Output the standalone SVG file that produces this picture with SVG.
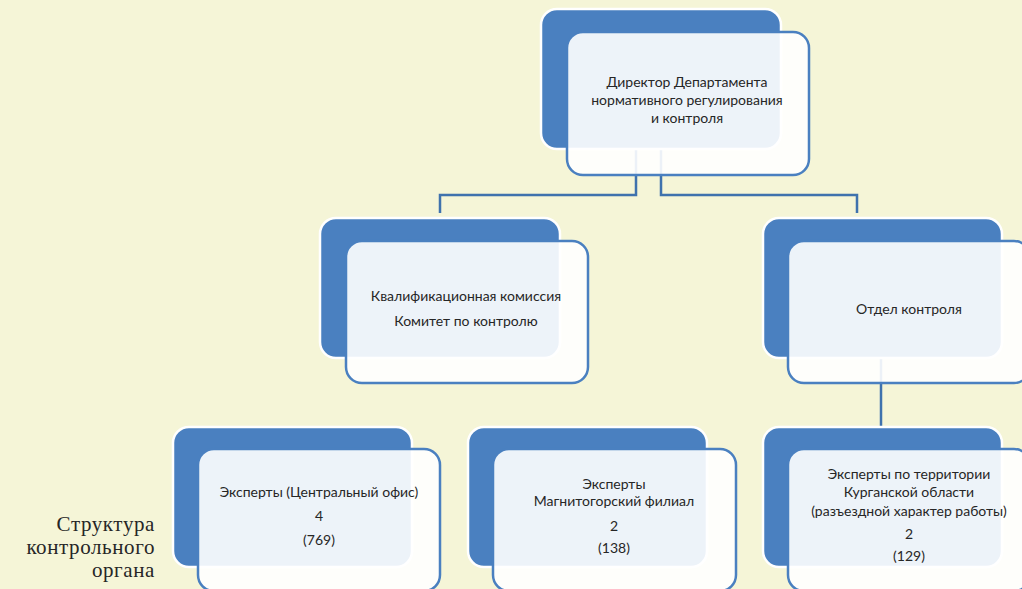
<svg xmlns="http://www.w3.org/2000/svg" width="1022" height="589" viewBox="0 0 1022 589">
<style>
.back{fill:#4a80c0;stroke:#ffffff;stroke-width:2.5}
.front{fill:#ffffff;fill-opacity:0.9;stroke:#4a80c0;stroke-width:2.5}
.t{font-family:Lato,"Open Sans","Liberation Sans",sans-serif;font-size:14px;fill:#262626;text-anchor:middle}
.conn{fill:none;stroke:#3f72ad;stroke-width:2.5}
.cap{font-family:"Liberation Serif","DejaVu Serif",serif;font-size:21px;letter-spacing:0.6px;fill:#262626;text-anchor:end}
</style>
<rect x="0" y="0" width="1022" height="589" fill="#f5f5d7"/>
<g id="connectors">
<path class="conn" d="M636,149 V195 H440 V213"/>
<path class="conn" d="M661,149 V195 H857 V213"/>
<path class="conn" d="M881,358 V428"/>
</g>
<g id="director">
<rect class="back" x="541" y="9" width="240" height="140" rx="16"/>
<rect class="front" x="567" y="32" width="242" height="143" rx="16"/>
<text class="t" x="687" y="87">Директор Департамента</text>
<text class="t" x="687" y="105">нормативного регулирования</text>
<text class="t" x="687" y="123">и контроля</text>
</g>
<g id="qualification">
<rect class="back" x="320" y="218" width="240" height="140" rx="16"/>
<rect class="front" x="346" y="241" width="242" height="142" rx="16"/>
<text class="t" x="466" y="301">Квалификационная комиссия</text>
<text class="t" x="466" y="326">Комитет по контролю</text>
</g>
<g id="control-dept">
<rect class="back" x="763" y="218" width="239" height="140" rx="16"/>
<rect class="front" x="788" y="241" width="242" height="142" rx="16"/>
<text class="t" x="909" y="314">Отдел контроля</text>
</g>
<g id="experts-central">
<rect class="back" x="173" y="427" width="239" height="140" rx="16"/>
<rect class="front" x="198" y="449" width="242" height="142" rx="16"/>
<text class="t" x="319" y="497">Эксперты (Центральный офис)</text>
<text class="t" x="319" y="521">4</text>
<text class="t" x="319" y="545">(769)</text>
</g>
<g id="experts-magnitogorsk">
<rect class="back" x="468" y="427" width="239" height="140" rx="16"/>
<rect class="front" x="493" y="449" width="243" height="142" rx="16"/>
<text class="t" x="614" y="489">Эксперты</text>
<text class="t" x="614" y="506">Магнитогорский филиал</text>
<text class="t" x="614" y="531">2</text>
<text class="t" x="614" y="553">(138)</text>
</g>
<g id="experts-kurgan">
<rect class="back" x="763" y="427" width="239" height="140" rx="16"/>
<rect class="front" x="788" y="449" width="242" height="142" rx="16"/>
<text class="t" x="909" y="479">Эксперты по территории</text>
<text class="t" x="909" y="497">Курганской области</text>
<text class="t" x="909" y="516">(разъездной характер работы)</text>
<text class="t" x="909" y="539">2</text>
<text class="t" x="909" y="561">(129)</text>
</g>
<g id="caption">
<text class="cap" x="155" y="531">Структура</text>
<text class="cap" x="155" y="554">контрольного</text>
<text class="cap" x="155" y="577">органа</text>
</g>
</svg>
